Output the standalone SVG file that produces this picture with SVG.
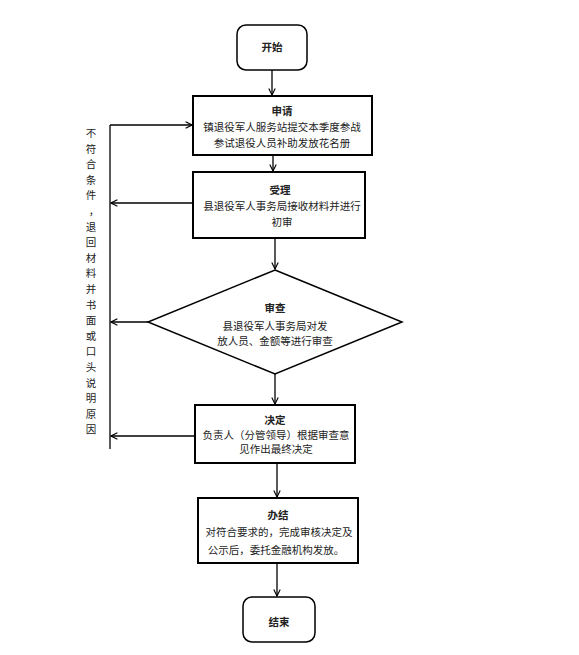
<svg xmlns="http://www.w3.org/2000/svg" width="579" height="655" viewBox="0 0 579 655">
<style>
.box{fill:#fff;stroke:#000;stroke-width:2}
.rbox{fill:#fff;stroke:#000;stroke-width:1.5}
.t{font-family:"Noto Sans CJK SC","Noto Sans",sans-serif;font-size:10.5px;fill:#222;text-anchor:middle}
.b{font-weight:bold}
.ln{fill:none;stroke:#000;stroke-width:1.3}
</style>
<defs>
<marker id="ah" viewBox="0 0 10 10" refX="9" refY="5" markerWidth="8" markerHeight="8" markerUnits="userSpaceOnUse" orient="auto">
<polyline points="1,1 9,5 1,9" fill="none" stroke="#000" stroke-width="1.4"/>
</marker>
</defs>
<rect width="579" height="655" fill="#fff"/>
<g id="connectors">
<line class="ln" x1="272" y1="70" x2="272" y2="95" marker-end="url(#ah)"/>
<line class="ln" x1="273" y1="155" x2="273" y2="171" marker-end="url(#ah)"/>
<line class="ln" x1="275" y1="238" x2="275" y2="269" marker-end="url(#ah)"/>
<line class="ln" x1="275" y1="373" x2="275" y2="404" marker-end="url(#ah)"/>
<line class="ln" x1="277" y1="463" x2="277" y2="497" marker-end="url(#ah)"/>
<line class="ln" x1="277" y1="563" x2="277" y2="596" marker-end="url(#ah)"/>
<line class="ln" x1="110" y1="125" x2="110" y2="449"/>
<line class="ln" x1="110" y1="125" x2="192" y2="125" marker-end="url(#ah)"/>
<line class="ln" x1="193" y1="203" x2="111" y2="203" marker-end="url(#ah)"/>
<line class="ln" x1="148" y1="322" x2="111" y2="322" marker-end="url(#ah)"/>
<line class="ln" x1="195" y1="436" x2="111" y2="436" marker-end="url(#ah)"/>
</g>
<g id="start">
<rect class="rbox" x="237" y="25" width="70" height="45" rx="9"/>
<text class="t b" x="272" y="51">开始</text>
</g>
<g id="apply">
<rect class="box" x="193" y="96" width="179" height="59"/>
<text class="t b" x="282" y="115">申请</text>
<text class="t" x="282" y="131">镇退役军人服务站提交本季度参战</text>
<text class="t" x="282" y="147">参试退役人员补助发放花名册</text>
</g>
<g id="accept">
<rect class="box" x="193" y="172" width="172" height="66"/>
<text class="t b" x="280" y="194">受理</text>
<text class="t" x="282" y="210">县退役军人事务局接收材料并进行</text>
<text class="t" x="282" y="226">初审</text>
</g>
<g id="review">
<polygon class="rbox" points="275,270 402,322 275,374 148,322"/>
<text class="t b" x="275" y="312">审查</text>
<text class="t" x="275" y="330">县退役军人事务局对发</text>
<text class="t" x="275" y="345">放人员、金额等进行审查</text>
</g>
<g id="decide">
<rect class="box" x="195" y="405" width="160" height="58"/>
<text class="t b" x="275" y="424">决定</text>
<text class="t" x="276" y="439">负责人（分管领导）根据审查意</text>
<text class="t" x="276" y="453">见作出最终决定</text>
</g>
<g id="finish">
<rect class="box" x="198" y="498" width="160" height="65"/>
<text class="t b" x="278" y="519">办结</text>
<text class="t" x="279" y="536">对符合要求的，完成审核决定及</text>
<text class="t" x="276" y="554">公示后，委托金融机构发放。</text>
</g>
<g id="end">
<rect class="rbox" x="243" y="597" width="72" height="45" rx="9"/>
<text class="t b" x="279" y="626">结束</text>
</g>
<g id="reject-label">
<text class="t" x="91" y="137"><tspan x="91" y="137">不</tspan><tspan x="91" y="152.6">符</tspan><tspan x="91" y="168.2">合</tspan><tspan x="91" y="183.8">条</tspan><tspan x="91" y="199.4">件</tspan><tspan x="94" y="215">，</tspan><tspan x="91" y="230.6">退</tspan><tspan x="91" y="246.2">回</tspan><tspan x="91" y="261.8">材</tspan><tspan x="91" y="277.4">料</tspan><tspan x="91" y="293">并</tspan><tspan x="91" y="308.6">书</tspan><tspan x="91" y="324.2">面</tspan><tspan x="91" y="339.8">或</tspan><tspan x="91" y="355.4">口</tspan><tspan x="91" y="371">头</tspan><tspan x="91" y="386.6">说</tspan><tspan x="91" y="402.2">明</tspan><tspan x="91" y="417.8">原</tspan><tspan x="91" y="433.4">因</tspan></text>
</g>
</svg>
